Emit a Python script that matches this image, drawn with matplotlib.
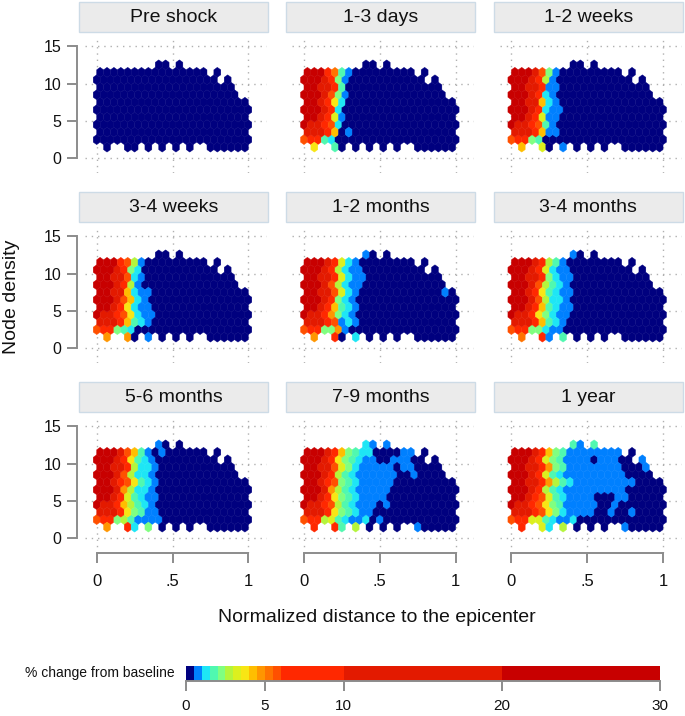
import numpy as np
import matplotlib
matplotlib.use("Agg")
import matplotlib.pyplot as plt
from matplotlib.colors import ListedColormap, BoundaryNorm
from matplotlib.patches import Rectangle
from matplotlib.ticker import NullLocator

plt.rcParams['font.family'] = ['Liberation Sans', 'DejaVu Sans']

# legend classes (% change from baseline)
class_edges = [0, .5, 1, 1.5, 2, 2.5, 3, 3.5, 4, 4.5, 5, 5.5, 6, 10, 20, 30]
class_colors = ['#00007f', '#0080ff', '#1ee6f5', '#50f8b0', '#80ff80', '#b4f53c',
                '#dcf01e', '#f8e614', '#ffbe00', '#ff9600', '#ff7300', '#ff5000',
                '#ff2800', '#e31a00', '#c80000']
class_codes = '0123456789abcde'
class_values = [.25, .75, 1.25, 1.75, 2.25, 2.75, 3.25, 3.75, 4.25, 4.75, 5.25, 5.75, 8, 15, 25]

# hex rows (node density), top to bottom, and which hex columns exist
node_density = [12.5, 11.5, 10.5, 9.5, 8.5, 7.5, 6.5, 5.5, 4.5, 3.5, 2.5, 1.5]
mask = [
    ".........xx.x..........",
    "xxxxxxxxxxxxxxxx.x.....",
    "xxxxxxxxxxxxxxxxxx.x...",
    "xxxxxxxxxxxxxxxxxxxx...",
    "xxxxxxxxxxxxxxxxxxxxx..",
    "xxxxxxxxxxxxxxxxxxxxxx.",
    "xxxxxxxxxxxxxxxxxxxxxxx",
    "xxxxxxxxxxxxxxxxxxxxxx.",
    "xxxxxxxxxxxxxxxxxxxxxxx",
    "xxxxxxxxxxxxxxxxxxxxxx.",
    "xxxxxxxxxxxxxxxxxxxxxxx",
    ".x..xx.x.x.x.x..xxxxxx.",
]

# class code per hex, rows as above (missing tail = 0 / navy)
pre_shock = [""] * 12
days_1_3 = ["", "eeeca31", "eeedc41", "eeddc30", "eeedb41", "eedc72", "eeedc2",
            "eedc61", "eddcb2", "dddc801", "bcc32", "0700300"]
weeks_1_2 = ["", "eeedb41", "eeedc51", "eeddc11", "eeedc21", "eedd821", "eeedc211",
             "eedc611", "eddcb31", "dddc811", "bcc43", "08006001"]
weeks_3_4 = ["", "eeecb51", "eeedc42", "eeddb21", "eeedc51", "eedd8211", "eeedb821",
             "eedc7211", "eddcb7211", "dddc8321", "bcc432", "09009001"]
months_1_2 = ["0000000001", "eeedc621", "eeedc5211", "eeddc6211", "eeedb5211",
              "eeddb6210000000000001", "eeedc421", "eedc8321", "eddc9421", "dddcb121",
              "bcc4491", "0900c002"]
months_3_4 = ["0000000001", "eeedc531", "eeedc6211", "eeddc4211", "eeedb5321",
              "eedc73211", "eeedb5221", "eedc83211", "eddc74211", "dddc8321",
              "bcc44211", "0a00c103"]
months_5_6 = ["0000000001", "eeedb83101", "eeedc7321", "eeddc5221", "eeedb5221",
              "eedcb7321", "eeed95221", "eedc63211", "eddc85321", "dddc74311",
              "bcc4531111", "0900c204"]
months_7_9 = ["0000000002101", "eeedc8432200001100", "eeedc7432110011100000",
              "eeddb6421111101100000", "eeedc532111111001", "eedcb43211111",
              "eeed953211111", "eedc74321111", "eddcb53211101", "dddc743211",
              "bcc563211201", "0c00c3050000000010"]
year_1 = ["0000000003103", "eeedc8431111111100", "eeedc643111101110001",
          "eeddc943111111110001", "eeedc63211111111100000",
          "eeddc953211111111100000", "eeedc53211111111100000",
          "eedcb63211110001100000", "eddcb743111110010000000",
          "dddcb7421111001001", "bcc6632112", "0c0062050000000010"]

titles = ["Pre shock", "1-3 days", "1-2 weeks", "3-4 weeks", "1-2 months",
          "3-4 months", "5-6 months", "7-9 months", "1 year"]
panels = [pre_shock, days_1_3, weeks_1_2, weeks_3_4, months_1_2, months_3_4,
          months_5_6, months_7_9, year_1]

cmap = ListedColormap(class_colors)
norm = BoundaryNorm(class_edges, cmap.N)
gray = '#8c8c8c'
txt = '#111111'

W, H = 685, 716
fig = plt.figure(figsize=(W / 100, H / 100), dpi=100)


def fax(left, top, width, height):
    return [left / W, 1 - (top + height) / H, width / W, height / H]


def hex_points(rows):
    xs, ys, vals = [], [], []
    for row, dens, mrow in zip(rows, node_density, mask):
        row = row.ljust(23, '0')
        shift = 0.5 if (dens - 1.5) % 2 == 0 else 0.0
        for i, (code, m) in enumerate(zip(row, mrow)):
            if m == 'x':
                xs.append((i + shift) / 22)
                ys.append(dens)
                vals.append(class_values[class_codes.index(code)])
    return np.array(xs), np.array(ys), np.array(vals)


col_left = [85, 292.3, 499.7]
row_top = [38.3, 228.3, 418.3]
pw, ph = 182, 135

for k, (title, rows) in enumerate(zip(titles, panels)):
    r, c = divmod(k, 3)
    ax = fig.add_axes(fax(col_left[c], row_top[r], pw, ph))
    for v in [0, .5, 1]:
        ax.axvline(v, color='#b0b0b0', lw=1.0, ls=(0, (1, 3.5)), zorder=0)
    for v in [0, 5, 10, 15]:
        ax.axhline(v, color='#b0b0b0', lw=1.0, ls=(0, (1, 3.5)), zorder=0)
    xs, ys, vals = hex_points(rows)
    ax.hexbin(xs, ys, C=vals, gridsize=(22, 6), extent=(0, 1, 0.5, 12.5),
              cmap=cmap, norm=norm, reduce_C_function=np.mean,
              linewidths=0.3, edgecolors='face', zorder=2)
    ax.set_xlim(-0.077, 1.123)
    ax.set_ylim(-2, 16.05)
    for s in ax.spines.values():
        s.set_visible(False)
    if c == 0:
        sp = ax.spines['left']
        sp.set_visible(True)
        sp.set_position(('outward', 6))
        sp.set_bounds(0, 15)
        sp.set_color(gray)
        sp.set_linewidth(1.4)
        ax.set_yticks([0, 5, 10, 15])
        ax.tick_params(axis='y', length=7, width=1.4, color=gray, pad=4,
                       labelsize=11.5, labelcolor=txt)
    else:
        ax.set_yticks([])
    if r == 2:
        sp = ax.spines['bottom']
        sp.set_visible(True)
        sp.set_bounds(0, 1)
        sp.set_color(gray)
        sp.set_linewidth(1.4)
        ax.set_xticks([0, .5, 1])
        ax.set_xticklabels(['0', '.5', '1'])
        ax.tick_params(axis='x', length=7, width=1.4, color=gray, pad=8,
                       labelsize=12, labelcolor=txt)
    else:
        ax.set_xticks([])
    # facet header
    bx, by = col_left[c] - 6, row_top[r] - 36.6
    fig.patches.append(Rectangle((bx / W, 1 - (by + 30.6) / H), 189 / W, 30.6 / H,
                                 transform=fig.transFigure, facecolor='#ebebeb',
                                 edgecolor='#cddbe6', lw=1.0))
    fig.text((bx + 94.5) / W, 1 - (by + 15.8) / H, title, ha='center', va='center',
             fontsize=14, color=txt)

fig.text(12 / W, 1 - 297 / H, 'Node density', rotation=90, ha='center',
         va='center', fontsize=14, color=txt)
fig.text(377 / W, 1 - 618 / H, 'Normalized distance to the epicenter',
         ha='center', va='center', fontsize=14, color=txt)

# legend bar
cax = fig.add_axes(fax(186, 666, 473.5, 15))
sm = plt.cm.ScalarMappable(norm=norm, cmap=cmap)
cb = fig.colorbar(sm, cax=cax, orientation='horizontal', spacing='proportional',
                  ticks=[0, 5, 10, 20, 30])
cb.set_ticklabels(['0', '5', '10', '20', '30'])
cb.outline.set_visible(False)
cax.xaxis.set_minor_locator(NullLocator())
cax.spines['bottom'].set_visible(True)
cax.spines['bottom'].set_color(gray)
cax.spines['bottom'].set_linewidth(1.4)
cax.tick_params(length=7, width=1.4, color=gray, labelsize=11, pad=6, labelcolor=txt)
fig.text(175 / W, 1 - 673 / H, '% change from baseline', ha='right', va='center',
         fontsize=10, color=txt)

fig.savefig('out.png', dpi=100)
